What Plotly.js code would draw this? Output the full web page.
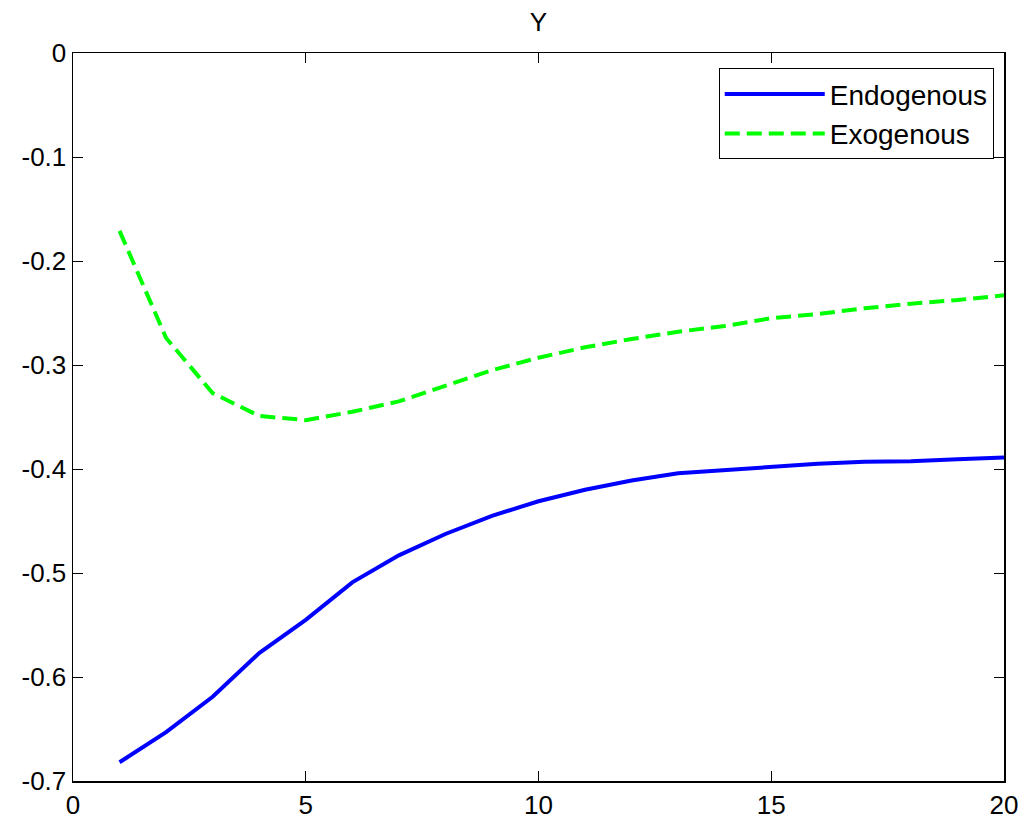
<!DOCTYPE html>
<html>
<head>
<meta charset="utf-8">
<script src="https://cdn.plot.ly/plotly-3.0.1.min.js"></script>
<style>html,body{margin:0;padding:0;background:#fff;}#chart{width:1027px;height:822px;}</style>
</head>
<body>
<div id="chart"></div>
<script>
const periods = [1,2,3,4,5,6,7,8,9,10,11,12,13,14,15,16,17,18,19,20];
const endogenous = [-0.682,-0.653,-0.619,-0.577,-0.545,-0.509,-0.483,-0.4625,-0.445,-0.431,-0.420,-0.411,-0.404,-0.401,-0.398,-0.395,-0.393,-0.3926,-0.3907,-0.389];
const exogenous = [-0.171,-0.274,-0.327,-0.349,-0.353,-0.345,-0.335,-0.320,-0.305,-0.293,-0.283,-0.275,-0.268,-0.2625,-0.255,-0.251,-0.2455,-0.241,-0.2375,-0.233];
const xTickVals = [0,5,10,15,20];
const yTickVals = [-0.7,-0.6,-0.5,-0.4,-0.3,-0.2,-0.1,0];
const yTickText = ['-0.7','-0.6','-0.5','-0.4','-0.3','-0.2','-0.1','0'];

const font = {family: 'Liberation Sans, Arial, sans-serif', size: 26, color: '#000'};
const legendFont = {family: 'Liberation Sans, Arial, sans-serif', size: 28, color: '#000'};

const traces = [
  {x: periods, y: endogenous, type: 'scatter', mode: 'lines', name: 'Endogenous',
   line: {color: '#0000ff', width: 4}},
  {x: periods, y: exogenous, type: 'scatter', mode: 'lines', name: 'Exogenous',
   line: {color: '#00ff00', width: 4, dash: '15px,7px'}}
];

const layout = {
  width: 1027, height: 822,
  margin: {l: 73, r: 23, t: 53, b: 41},
  paper_bgcolor: '#fff', plot_bgcolor: '#fff',
  font: font,
  title: {text: 'Y', font: font, xref: 'paper', x: 0.5, xanchor: 'center', y: 0.973, yanchor: 'middle'},
  showlegend: true,
  legend: {x: 0.989, xanchor: 'right', y: 0.979, yanchor: 'top',
    bordercolor: '#000', borderwidth: 1, bgcolor: '#fff',
    font: legendFont, itemwidth: 100, tracegroupgap: 0},
  xaxis: {range: [0, 20], tickvals: xTickVals, ticktext: xTickVals.map(String),
    ticks: 'inside', ticklen: 10, tickcolor: '#000', tickwidth: 1,
    showline: true, linecolor: '#000', linewidth: 1.5, mirror: 'ticks',
    showgrid: false, zeroline: false, tickfont: font},
  yaxis: {range: [-0.7, 0], tickvals: yTickVals, ticktext: yTickText,
    ticks: 'inside', ticklen: 10, tickcolor: '#000', tickwidth: 1,
    showline: true, linecolor: '#000', linewidth: 1.5, mirror: 'ticks',
    showgrid: false, zeroline: false, tickfont: font}
};

Plotly.newPlot('chart', traces, layout, {displayModeBar: false, staticPlot: true});
</script>
</body>
</html>
